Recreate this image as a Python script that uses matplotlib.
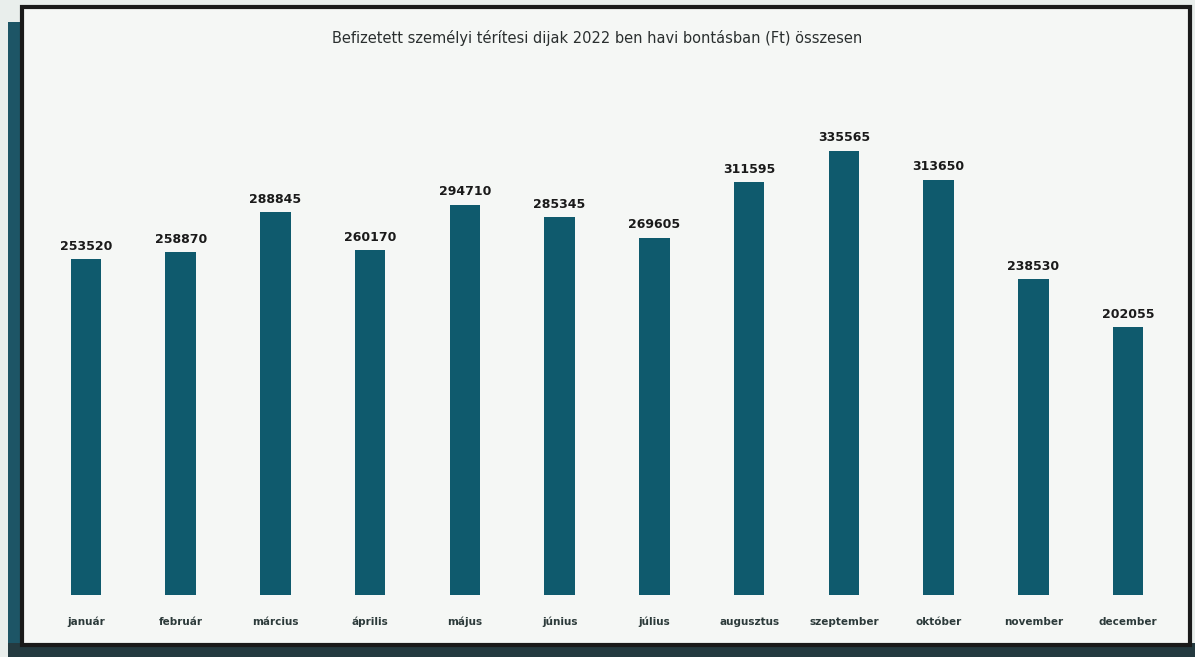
import matplotlib.pyplot as plt
from matplotlib.patches import Rectangle
from matplotlib import font_manager

months = ["január", "február", "március", "április", "május", "június",
          "július", "augusztus", "szeptember", "október", "november", "december"]
values = [253520, 258870, 288845, 260170, 294710, 285345,
          269605, 311595, 335565, 313650, 238530, 202055]
title = "Befizetett személyi térítesi dijak 2022 ben havi bontásban (Ft) összesen"

names = {f.name for f in font_manager.fontManager.ttflist}
narrow = "Liberation Sans Narrow" if "Liberation Sans Narrow" in names else "DejaVu Sans"

W, H = 1195, 657
fig = plt.figure(figsize=(W / 100, H / 100), dpi=100)
fig.patch.set_facecolor("#e9eeec")

# scanned page frame: teal strip on the left / bottom, black border
fig.add_artist(Rectangle((8 / W, 0), 16 / W, 1 - 22 / H, transform=fig.transFigure,
                         facecolor="#1d5566", edgecolor="none", zorder=0))
fig.add_artist(Rectangle((8 / W, 0), 1 - 8 / W, 14 / H, transform=fig.transFigure,
                         facecolor="#243a40", edgecolor="none", zorder=0))
fig.add_artist(Rectangle((22 / W, 12 / H), 1168 / W, 638 / H, transform=fig.transFigure,
                         facecolor="#f5f7f5", edgecolor="#1a1a1a", linewidth=3, zorder=1))

ax = fig.add_axes([38.5 / W, 62 / H, 1137 / W, 535 / H])
ax.set_facecolor("none")
ax.set_zorder(2)

x = range(len(months))
bars = ax.bar(x, values, width=0.32, color="#0f5a6d")
for xi, v in zip(x, values):
    ax.text(xi, v + 5000, str(v), ha="center", va="bottom", family=narrow,
            fontsize=9, fontweight="bold", color="#1a1a1a")
    ax.text(xi, -23000, months[xi], ha="center", va="baseline", family=narrow,
            fontsize=7.5, fontweight="bold", color="#2c3a3a")

ax.set_xlim(-0.5, 11.5)
ax.set_ylim(0, 404000)
ax.axis("off")

fig.text(0.5, 1 - 38 / H, title, ha="center", va="center",
         fontsize=10.5, fontweight="medium", color="#2a2f2f", zorder=3)

fig.savefig("out.png", dpi=100, facecolor=fig.get_facecolor())
